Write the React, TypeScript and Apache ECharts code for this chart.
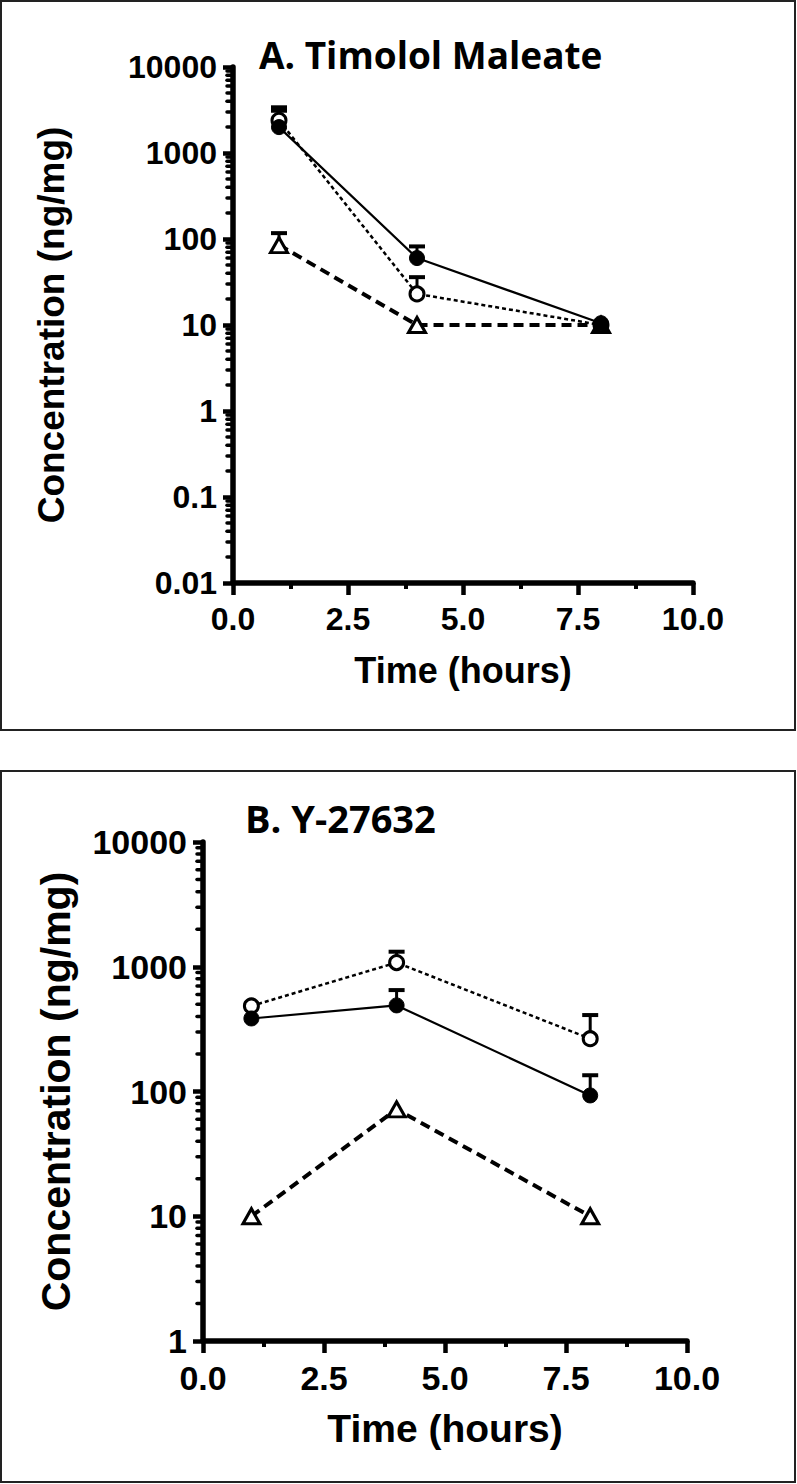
import React, { useEffect, useRef } from "react";
import * as echarts from "echarts";

// ---------- data ----------
const times = [1, 4, 8];
const yTickLabelsA = ["0.01", "0.1", "1", "10", "100", "1000", "10000"];
const yTickLabelsB = ["1", "10", "100", "1000", "10000"];
const minorMultipliers = [2, 3, 4, 5, 6, 7, 8, 9];

// Panel A: Timolol Maleate
const aFilled = [2000, 60, 10.5];
const aFilledUpper = [3100, 82, null];
const aOpen = [2400, 23, 10];
const aOpenUpper = [3400, 36, null];
const aTriangle = [85, 10, 10];
const aTriangleUpper = [117, null, null];

// Panel B: Y-27632
const bFilled = [385, 490, 93];
const bFilledUpper = [null, 650, 135];
const bOpen = [485, 1080, 265];
const bOpenUpper = [null, 1320, 410];
const bTriangle = [10, 72, 10];
const bTriangleUpper = [null, null, null];

const BOLD_SANS = "'Liberation Sans', Arial, sans-serif";
const TITLE_FONT = "'Open Sans', sans-serif";

function pairs(vals: number[]) {
  return times.map((t, i) => [t, vals[i]]);
}
function errData(vals: number[], upper: (number | null)[]) {
  return times
    .map((t, i) => [t, vals[i], upper[i]])
    .filter((d) => d[2] != null);
}
function minorData(kMin: number, kMax: number) {
  const out: number[][] = [];
  for (let k = kMin; k < kMax; k++) {
    for (const m of minorMultipliers) out.push([0, m * Math.pow(10, k)]);
  }
  return out;
}

const errRender = (params: any, api: any) => {
  const base = api.coord([api.value(0), api.value(1)]);
  const top = api.coord([api.value(0), api.value(2)]);
  const w = 8;
  return {
    type: "group",
    children: [
      { type: "line", shape: { x1: base[0], y1: base[1], x2: top[0], y2: top[1] }, style: { stroke: "#000", lineWidth: 3 } },
      { type: "line", shape: { x1: top[0] - w, y1: top[1], x2: top[0] + w, y2: top[1] }, style: { stroke: "#000", lineWidth: 4 } },
    ],
  };
};
const minorRender = (params: any, api: any) => {
  const p = api.coord([api.value(0), api.value(1)]);
  return {
    type: "line",
    shape: { x1: p[0] - 6, y1: p[1], x2: p[0], y2: p[1] },
    style: { stroke: "#000", lineWidth: 3.5, lineCap: "round" },
  };
};

function panelSeries(idx: number, filled: number[], filledU: (number | null)[], open: number[], openU: (number | null)[], tri: number[], triU: (number | null)[], kMin: number, kMax: number) {
  return [
    { type: "custom", xAxisIndex: idx, yAxisIndex: idx, data: minorData(kMin, kMax), renderItem: minorRender, clip: false, z: 5, silent: true },
    { type: "custom", xAxisIndex: idx, yAxisIndex: idx, data: errData(tri, triU), renderItem: errRender, z: 3, silent: true },
    { type: "custom", xAxisIndex: idx, yAxisIndex: idx, data: errData(open, openU), renderItem: errRender, z: 3, silent: true },
    { type: "custom", xAxisIndex: idx, yAxisIndex: idx, data: errData(filled, filledU), renderItem: errRender, z: 3, silent: true },
    {
      type: "line", name: "Triangle", xAxisIndex: idx, yAxisIndex: idx, data: pairs(tri), z: 4,
      symbol: "triangle", symbolSize: [17, 15],
      lineStyle: { color: "#000", width: 4, type: [10, 6] },
      itemStyle: { color: "#fff", borderColor: "#000", borderWidth: 3 },
    },
    {
      type: "line", name: "Open circle", xAxisIndex: idx, yAxisIndex: idx, data: pairs(open), z: 4,
      symbol: "circle", symbolSize: 14,
      lineStyle: { color: "#000", width: 2.5, type: [4, 3] },
      itemStyle: { color: "#fff", borderColor: "#000", borderWidth: 3 },
    },
    {
      type: "line", name: "Filled circle", xAxisIndex: idx, yAxisIndex: idx, data: pairs(filled), z: 4,
      symbol: "circle", symbolSize: 15,
      lineStyle: { color: "#000", width: 2.2 },
      itemStyle: { color: "#000", borderColor: "#000", borderWidth: 1 },
    },
  ];
}

function xAxisCfg(idx: number, labelSize: number, nameSize: number, nameGap: number) {
  return {
    type: "value", gridIndex: idx, min: 0, max: 10, interval: 2.5,
    name: "Time (hours)", nameLocation: "middle", nameGap,
    nameTextStyle: { fontFamily: BOLD_SANS, fontWeight: "bold", fontSize: nameSize, color: "#000" },
    axisLine: { show: true, onZero: false, lineStyle: { color: "#000", width: 5.5 } },
    axisTick: { show: true, length: 12, lineStyle: { color: "#000", width: 4.5 } },
    minorTick: { show: true, splitNumber: 2, length: 6, lineStyle: { color: "#000", width: 4 } },
    axisLabel: { fontFamily: BOLD_SANS, fontWeight: "bold", fontSize: labelSize, color: "#000", margin: 20, formatter: (v: number) => v.toFixed(1) },
    splitLine: { show: false },
  };
}
function yAxisCfg(idx: number, min: number, max: number, labels: string[], kMin: number, labelSize: number, nameSize: number, nameGap: number) {
  return {
    type: "log", logBase: 10, gridIndex: idx, min, max, splitNumber: labels.length - 1,
    name: "Concentration (ng/mg)", nameLocation: "middle", nameGap, nameRotate: 90,
    nameTextStyle: { fontFamily: BOLD_SANS, fontWeight: "bold", fontSize: nameSize, color: "#000" },
    axisLine: { show: true, onZero: false, lineStyle: { color: "#000", width: 5.5 } },
    axisTick: { show: true, length: 10, lineStyle: { color: "#000", width: 4.5 } },
    axisLabel: {
      fontFamily: BOLD_SANS, fontWeight: "bold", fontSize: labelSize, color: "#000", margin: 16,
      formatter: (v: number) => labels[Math.round(Math.log10(v)) - kMin] ?? "",
    },
    splitLine: { show: false },
  };
}

export default function App() {
  const ref = useRef<HTMLDivElement>(null);
  useEffect(() => {
    if (!ref.current) return;
    const chart = echarts.init(ref.current, null, { renderer: "svg" });
    chart.setOption({
      animation: false,
      backgroundColor: "#fff",
      grid: [
        { left: 233, top: 67, width: 460, height: 516 },
        { left: 203, top: 842, width: 484, height: 499 },
      ],
      xAxis: [xAxisCfg(0, 32, 36, 69), xAxisCfg(1, 34, 39, 68)],
      yAxis: [
        yAxisCfg(0, 0.01, 10000, yTickLabelsA, -2, 32, 37, 163),
        yAxisCfg(1, 1, 10000, yTickLabelsB, 0, 34, 41, 127),
      ],
      graphic: [
        { type: "rect", shape: { x: 1, y: 1, width: 794, height: 729 }, style: { fill: "none", stroke: "#222", lineWidth: 2 } },
        { type: "rect", shape: { x: 1, y: 771, width: 794, height: 711 }, style: { fill: "none", stroke: "#222", lineWidth: 2 } },
        { type: "text", x: 259, y: 54, style: { text: "A. Timolol Maleate", fontFamily: TITLE_FONT, fontWeight: "bold", fontSize: 37, fill: "#000", verticalAlign: "middle", align: "left" } },
        { type: "text", x: 245, y: 818, style: { text: "B. Y-27632", fontFamily: TITLE_FONT, fontWeight: "bold", fontSize: 38, fill: "#000", verticalAlign: "middle", align: "left" } },
      ],
      series: [
        ...panelSeries(0, aFilled, aFilledUpper, aOpen, aOpenUpper, aTriangle, aTriangleUpper, -2, 4),
        ...panelSeries(1, bFilled, bFilledUpper, bOpen, bOpenUpper, bTriangle, bTriangleUpper, 0, 4),
      ],
    });
    return () => chart.dispose();
  }, []);
  return <div ref={ref} style={{ position: "absolute", left: 0, top: 0, width: 797, height: 1484 }} />;
}
